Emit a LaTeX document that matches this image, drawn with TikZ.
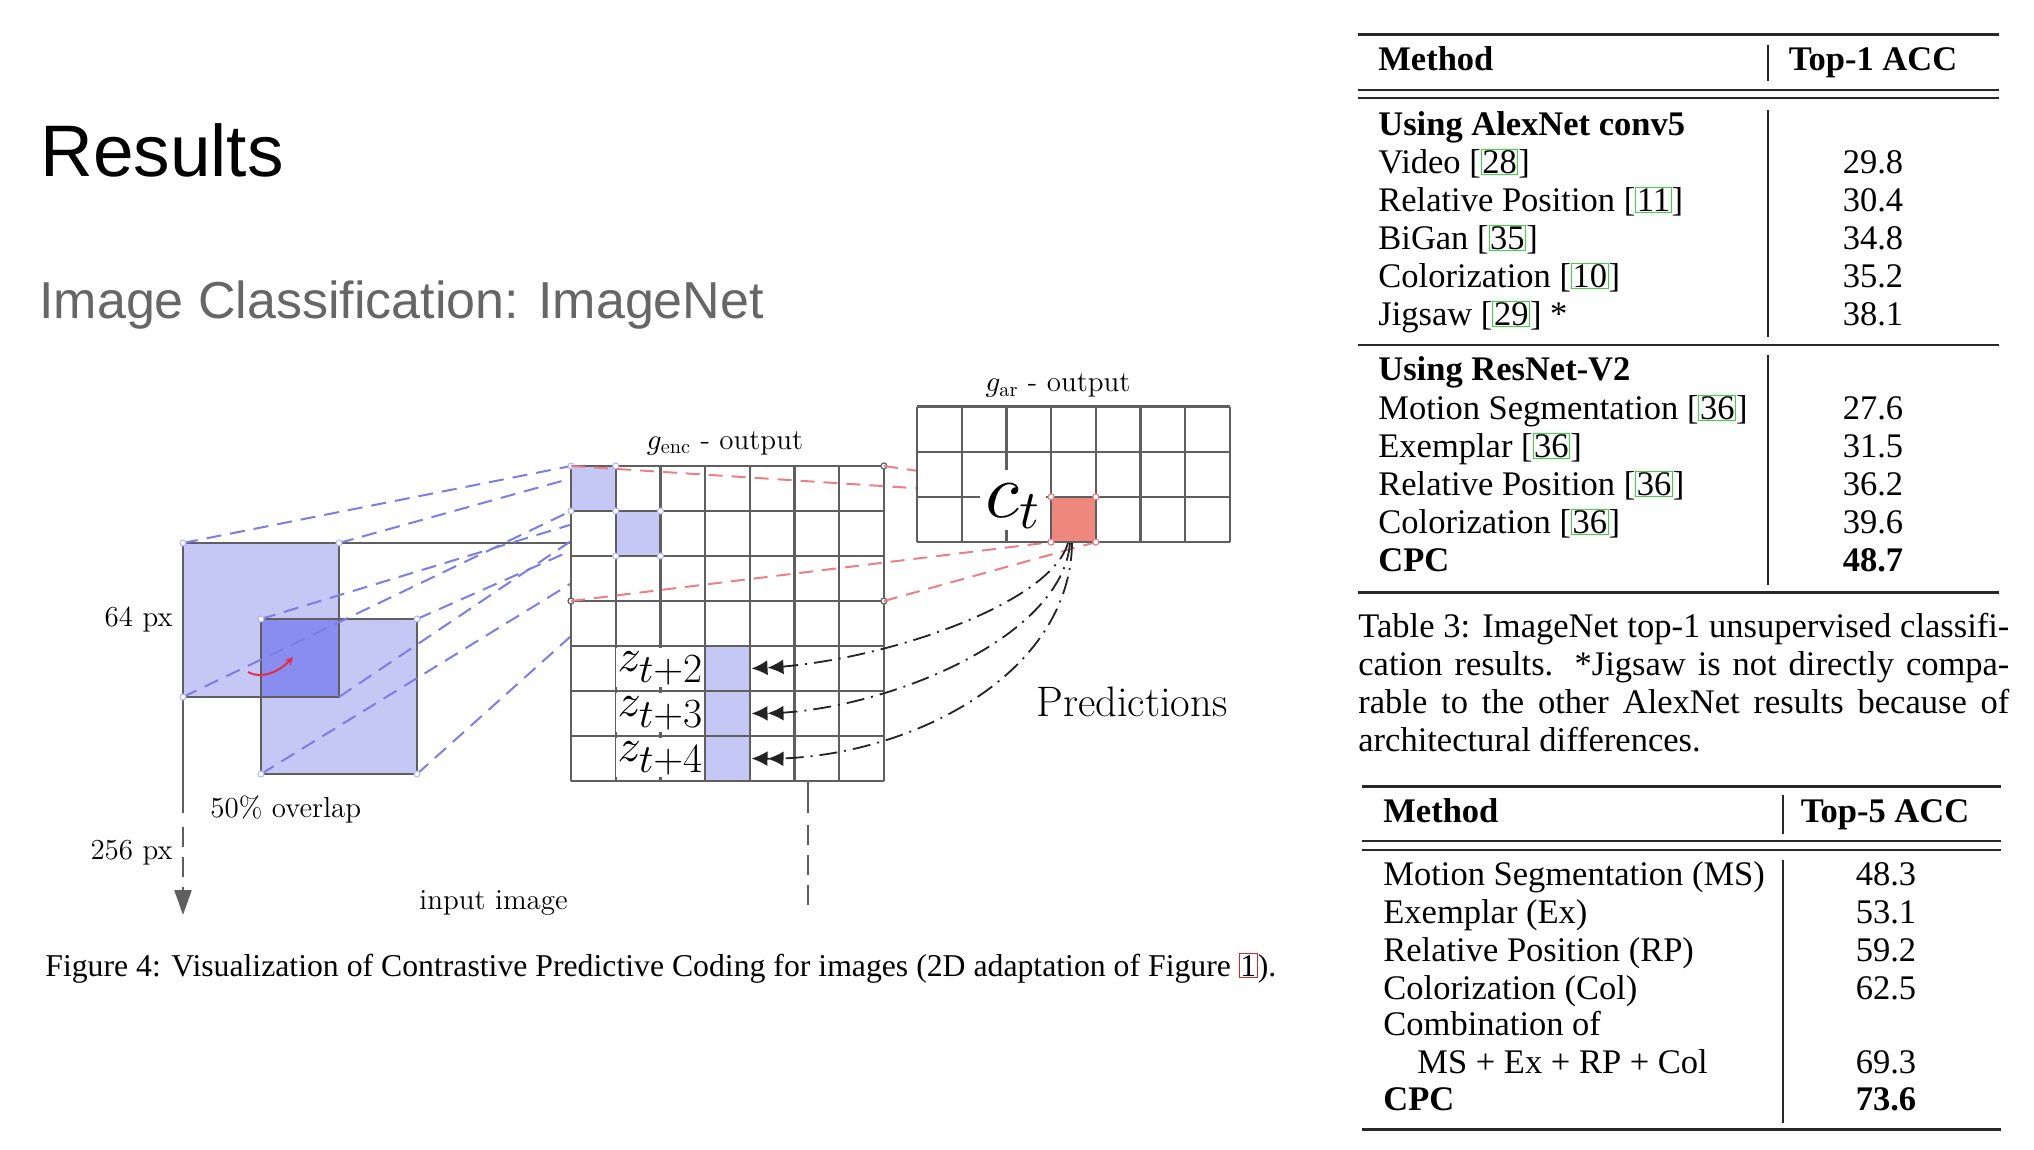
\documentclass[tikz,border=0pt]{standalone}
\usepackage{fontspec}
\DeclareFontShape{OML}{cmm}{m}{it}{<->cmmi10}{}
\DeclareFontShape{OMS}{cmsy}{m}{n}{<->cmsy10}{}
\DeclareMathSizes{23}{23}{20}{15}
\usetikzlibrary{arrows.meta}
\newfontfamily\tms{Liberation Serif}
\newfontfamily\arl{Liberation Sans}
\definecolor{gridgray}{RGB}{95,95,95}
\definecolor{patch}{RGB}{197,199,245}
\definecolor{overlapc}{RGB}{138,141,240}
\definecolor{dashblue}{RGB}{125,125,228}
\definecolor{dashred}{RGB}{232,128,132}
\definecolor{ctred}{RGB}{238,135,125}
\definecolor{predgray}{RGB}{35,35,35}
\definecolor{citegreen}{RGB}{60,215,60}
\definecolor{citered}{RGB}{215,40,40}
\definecolor{subgray}{RGB}{102,102,102}
\definecolor{rulecol}{RGB}{40,40,40}
\definecolor{arrowred}{RGB}{228,45,75}
\definecolor{dotlav}{RGB}{180,180,245}
\newcommand{\gb}[1]{{\setlength{\fboxsep}{0.3pt}\setlength{\fboxrule}{0.5pt}\color{citegreen}\fbox{\color{black}#1}}}
\newcommand{\rbx}[1]{{\setlength{\fboxsep}{0.3pt}\setlength{\fboxrule}{0.5pt}\color{citered}\fbox{\color{black}#1}}}
\tikzset{
  gridline/.style={draw=gridgray, line width=1.2pt},
  bluedash/.style={draw=dashblue, line width=1pt, dash pattern=on 7.5pt off 4.5pt},
  reddash/.style={draw=dashred, line width=1pt, dash pattern=on 7pt off 4.5pt},
  predarrow/.style={draw=predgray, line width=0.9pt, dash pattern=on 9pt off 3.5pt on 1pt off 3.5pt,
     -{Latex[length=8pt,width=7.5pt]Latex[length=8pt,width=7.5pt]}},
  lbl/.style={font=\fontsize{14.5}{17}\selectfont, inner sep=0pt},
  zlab/.style={font=\fontsize{23}{27}\selectfont, fill=white, inner sep=0pt, text height=11.85pt,
     text depth=7.4pt, minimum width=44pt, anchor=base},
  tbl/.style={font=\tms\fontsize{17.25}{20}\selectfont, inner sep=0pt, anchor=base west},
  tval/.style={font=\tms\fontsize{17.25}{20}\selectfont, inner sep=0pt, anchor=base},
  thickrule/.style={draw=rulecol, line width=1.5pt},
  thinrule/.style={draw=rulecol, line width=1pt},
  vrule/.style={draw=rulecol, line width=0.9pt},
  dimline/.style={draw=gridgray, line width=1.2pt},
  dimdash/.style={draw=gridgray, line width=1.2pt, dash pattern=on 10pt off 5pt},
}
\begin{document}
\begin{tikzpicture}[x=0.5pt,y=-0.5pt]
\fill[white] (0,0) rectangle (2034,1150);
\useasboundingbox (0,0) rectangle (2034,1150);

% ---------- titles ----------
\node[font=\arl\fontsize{36.5}{40}\selectfont, anchor=base west, inner sep=0pt] (title) at (40,177) {Results};
\node[font=\arl\fontsize{26}{30}\selectfont, text=subgray, anchor=base west, inner sep=0pt] (subtitle) at (39,318) {Image Classification: ImageNet};

% ---------- coordinates ----------
\coordinate (s1nw) at (183,543); \coordinate (s1ne) at (339,543);
\coordinate (s1sw) at (183,697); \coordinate (s1se) at (339,697);
\coordinate (s2nw) at (261,619); \coordinate (s2ne) at (417,619);
\coordinate (s2sw) at (261,774); \coordinate (s2se) at (417,774);
\foreach \i in {0,...,7}{\foreach \j in {0,...,7}{\coordinate (e-\i-\j) at ({571+\i*44.7},{466+\j*45});}}
\foreach \i in {0,...,7}{\foreach \j in {0,...,3}{\coordinate (a-\i-\j) at ({917+\i*44.7},{406.5+\j*45.2});}}
\coordinate (encl) at (571,543);

% ---------- input patches ----------
\fill[patch] (s1nw) rectangle (s1se);
\fill[patch] (s2nw) rectangle (s2se);
\fill[overlapc] (s2nw) rectangle (s1se);
\draw[gridline] (s1nw) rectangle (s1se);
\draw[gridline] (s2nw) rectangle (s2se);
\draw[dimline] (s1ne) -- (encl);
\coordinate (v1a) at (183,813); \coordinate (v1b) at (183,827); \coordinate (v1tip) at (183,915);
\draw[dimline] (s1sw) -- (v1a);
\draw[dimdash, -{Triangle[length=12.5pt,width=8.5pt]}] (v1b) -- (v1tip);

% ---------- blue receptive-field lines ----------
\draw[bluedash] (s1nw) -- (e-0-0);
\draw[bluedash] (s1ne) -- (e-1-0);
\draw[bluedash] (s1sw) -- (e-0-1);
\draw[bluedash] (s1se) -- (e-1-1);
\draw[bluedash] (s2nw) -- (e-1-1);
\draw[bluedash] (s2ne) -- (e-2-1);
\draw[bluedash] (s2sw) -- (e-1-2);
\draw[bluedash] (s2se) -- (e-2-2);
\foreach \p in {s1nw,s1ne,s1sw,s2nw,s2ne,s2sw,s2se}{\filldraw[fill=white, draw=dotlav, line width=0.5pt] (\p) circle[radius=3];}

% small red arrow
\coordinate (ra1) at (248,672); \coordinate (ra2) at (293,657);
\draw[arrowred, line width=1pt, -{Stealth[length=4pt,width=4pt]}] (ra1) .. controls (262,680) and (280,671) .. (ra2);

% ---------- g_enc grid ----------
\fill[white] (e-0-0) rectangle (e-7-7);
\fill[patch] (e-0-0) rectangle (e-1-1);
\fill[patch] (e-1-1) rectangle (e-2-2);
\fill[patch] (e-3-4) rectangle (e-4-7);
\foreach \i in {0,...,7}{\draw[gridline] (e-\i-0) -- (e-\i-7);}
\foreach \j in {0,...,7}{\draw[gridline] (e-0-\j) -- (e-7-\j);}
\foreach \p in {e-0-0,e-1-0,e-0-1,e-1-1,e-2-1,e-1-2,e-2-2}{\filldraw[fill=white, draw=dotlav, line width=0.5pt] (\p) circle[radius=3];}
\foreach \p in {e-7-0,e-0-3,e-7-3}{\filldraw[fill=white, draw=gridgray, line width=0.6pt] (\p) circle[radius=3];}

% vertical dimension line below grid
\coordinate (v2a) at (808,781); \coordinate (v2b) at (808,813);
\coordinate (v2c) at (808,825); \coordinate (v2d) at (808,913);
\draw[dimline] (v2a) -- (v2b);
\draw[dimdash] (v2c) -- (v2d);

% ---------- red receptive field lines ----------
\draw[reddash] (e-0-0) -- (a-3-2);
\draw[reddash] (e-7-0) -- (a-4-2);
\draw[reddash] (e-0-3) -- (a-3-3);
\draw[reddash] (e-7-3) -- (a-4-3);

% ---------- g_ar grid ----------
\fill[white] (a-0-0) rectangle (a-7-3);
\fill[ctred] (a-3-2) rectangle (a-4-3);
\foreach \i in {0,...,7}{\draw[gridline] (a-\i-0) -- (a-\i-3);}
\foreach \j in {0,...,3}{\draw[gridline] (a-0-\j) -- (a-7-\j);}
\foreach \p in {a-3-2,a-4-2,a-3-3,a-4-3}{\filldraw[fill=white, draw=dashred, line width=0.6pt] (\p) circle[radius=3];}

% ---------- labels on grids ----------
\node[zlab] (z2) at (660.4,671.7) {$z_{t+2}$};
\node[zlab] (z3) at (660.4,716.7) {$z_{t+3}$};
\node[zlab] (z4) at (660.4,761.7) {$z_{t+4}$};
\node[font=\fontsize{39}{45}\selectfont, fill=white, inner sep=0pt, text height=23.5pt, text depth=6.5pt,
      minimum width=33pt, anchor=base] (ct) at (1013,517) {$c_t$};

% ---------- prediction arcs ----------
\coordinate (c1) at (1068,543); \coordinate (c2) at (1070,543); \coordinate (c3) at (1072,543);
\coordinate (tip2) at (751.5,668.5); \coordinate (tip3) at (751.5,713.5); \coordinate (tip4) at (751.5,758.5);
\draw[predarrow] (c1) .. controls (1050,605) and (880,662) .. (tip2);
\draw[predarrow] (c2) .. controls (1062,640) and (880,712) .. (tip3);
\draw[predarrow] (c3) .. controls (1070,680) and (900,760) .. (tip4);

% ---------- text labels ----------
\node[lbl, anchor=base east] (l64) at (173,626) {64 px};
\node[lbl, anchor=base east] (l256) at (173,859) {256 px};
\node[lbl, anchor=base west] (lov) at (210,817) {50\% overlap};
\node[lbl, anchor=base west] (lin) at (419,909) {input image};
\node[lbl, anchor=base] (lenc) at (725,449) {$g_{\mathrm{enc}}$ - output};
\node[lbl, anchor=base] (lar) at (1058,391.7) {$g_{\mathrm{ar}}$ - output};
\node[font=\fontsize{21.3}{25}\selectfont, inner sep=0pt, anchor=base west] (lpred) at (1036,716) {Predictions};

% ---------- figure caption ----------
\node[font=\tms\fontsize{15.87}{19}\selectfont, anchor=base west, inner sep=0pt] (figcap) at (45,976)
  {Figure 4: Visualization of Contrastive Predictive Coding for images (2D adaptation of Figure \rbx{1}).};

% ---------- table 1 ----------
\draw[thickrule] (1358,34.5) -- (1999,34.5);
\draw[thinrule] (1358,90.2) -- (1999,90.2);
\draw[thinrule] (1358,97.8) -- (1999,97.8);
\draw[thinrule] (1358,345.3) -- (1999,345.3);
\draw[thickrule] (1358,592) -- (1999,592);
\draw[vrule] (1768,45.5) -- (1768,81);
\draw[vrule] (1768,110) -- (1768,337);
\draw[vrule] (1768,355) -- (1768,584.5);
\node[tbl] (t1h) at (1378,70.6) {\textbf{Method}};
\node[tval] (t1hv) at (1873,70.6) {\textbf{Top-1 ACC}};
\node[tbl] (t1g1) at (1378,135.3) {\textbf{Using AlexNet conv5}};
\node[tbl] (t1r1) at (1378,173.4) {Video [\gb{28}]};
\node[tbl] (t1r2) at (1378,211.5) {Relative Position [\gb{11}]};
\node[tbl] (t1r3) at (1378,249.3) {BiGan [\gb{35}]};
\node[tbl] (t1r4) at (1378,287.5) {Colorization [\gb{10}]};
\node[tbl] (t1r5) at (1378,325.2) {Jigsaw [\gb{29}] *};
\node[tval] (t1v1) at (1873,173.4) {29.8};
\node[tval] (t1v2) at (1873,211.5) {30.4};
\node[tval] (t1v3) at (1873,249.3) {34.8};
\node[tval] (t1v4) at (1873,287.5) {35.2};
\node[tval] (t1v5) at (1873,325.2) {38.1};
\node[tbl] (t1g2) at (1378,380) {\textbf{Using ResNet-V2}};
\node[tbl] (t1r6) at (1378,419) {Motion Segmentation [\gb{36}]};
\node[tbl] (t1r7) at (1378,457) {Exemplar [\gb{36}]};
\node[tbl] (t1r8) at (1378,495) {Relative Position [\gb{36}]};
\node[tbl] (t1r9) at (1378,533.5) {Colorization [\gb{36}]};
\node[tbl] (t1r10) at (1378,571.5) {\textbf{CPC}};
\node[tval] (t1v6) at (1873,419) {27.6};
\node[tval] (t1v7) at (1873,457) {31.5};
\node[tval] (t1v8) at (1873,495) {36.2};
\node[tval] (t1v9) at (1873,533.5) {39.6};
\node[tval] (t1v10) at (1873,571.5) {\textbf{48.7}};

% ---------- table caption ----------
\node[tbl] (cap1) at (1358,637.5) {\hbox to 325.5pt{Table 3: ImageNet top-1 unsupervised classifi-}};
\node[tbl] (cap2) at (1358,675.7) {\hbox to 325.5pt{cation results.  *Jigsaw is not directly compa-}};
\node[tbl] (cap3) at (1358,713) {\hbox to 325.5pt{rable to the other AlexNet results because of}};
\node[tbl] (cap4) at (1358,751) {architectural differences.};

% ---------- table 2 ----------
\draw[thickrule] (1362,786) -- (2001,786);
\draw[thinrule] (1362,840.5) -- (2001,840.5);
\draw[thinrule] (1362,849.5) -- (2001,849.5);
\draw[thickrule] (1362,1129) -- (2001,1129);
\draw[vrule] (1783,795) -- (1783,834);
\draw[vrule] (1783,860) -- (1783,1123);
\node[tbl] (t2h) at (1383,822) {\textbf{Method}};
\node[tval] (t2hv) at (1885,822) {\textbf{Top-5 ACC}};
\node[tbl] (t2r1) at (1383,885.5) {Motion Segmentation (MS)};
\node[tbl] (t2r2) at (1383,923.5) {Exemplar (Ex)};
\node[tbl] (t2r3) at (1383,961.5) {Relative Position (RP)};
\node[tbl] (t2r4) at (1383,999.5) {Colorization (Col)};
\node[tbl] (t2r5) at (1383,1035.5) {Combination of};
\node[tbl] (t2r6) at (1417,1073.5) {MS + Ex + RP + Col};
\node[tbl] (t2r7) at (1383,1110) {\textbf{CPC}};
\node[tval] (t2v1) at (1886,885.5) {48.3};
\node[tval] (t2v2) at (1886,923.5) {53.1};
\node[tval] (t2v3) at (1886,961.5) {59.2};
\node[tval] (t2v4) at (1886,999.5) {62.5};
\node[tval] (t2v6) at (1886,1073.5) {69.3};
\node[tval] (t2v7) at (1886,1110) {\textbf{73.6}};
\end{tikzpicture}
\end{document}
